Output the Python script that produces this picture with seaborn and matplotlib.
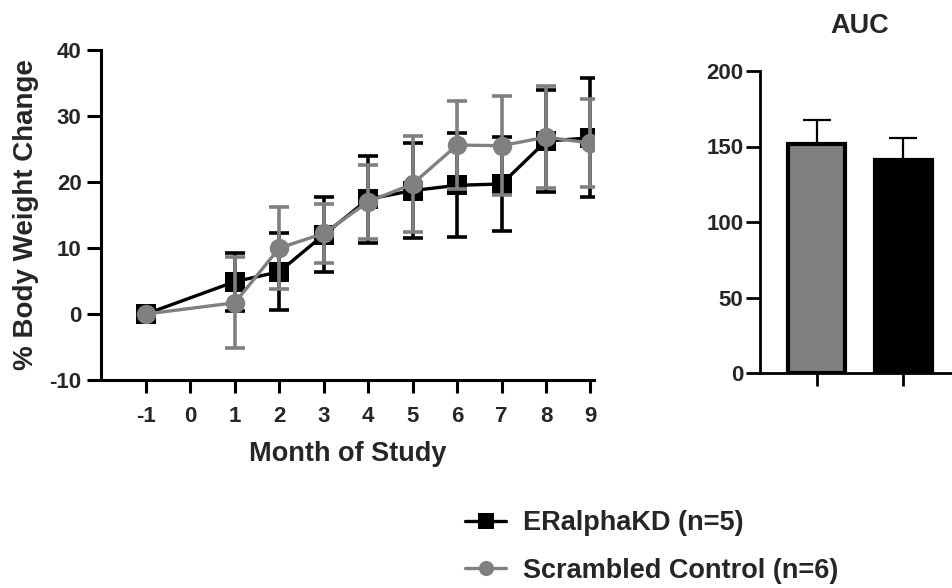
import numpy as np
import pandas as pd
import matplotlib
matplotlib.use("Agg")
import matplotlib.pyplot as plt
import seaborn as sns

# Monthly % body weight change (mean and SEM) per group
months = [-1, 1, 2, 3, 4, 5, 6, 7, 8, 9]
kd_mean = [0.0, 4.9, 6.4, 12.0, 17.4, 18.7, 19.5, 19.7, 26.2, 26.7]
kd_sem = [0.0, 4.4, 5.8, 5.7, 6.6, 7.2, 7.9, 7.1, 7.7, 9.0]
ctrl_mean = [0.0, 1.7, 10.0, 12.2, 17.0, 19.7, 25.6, 25.5, 26.8, 25.9]
ctrl_sem = [0.0, 6.9, 6.2, 4.5, 5.6, 7.3, 6.7, 7.5, 7.7, 6.7]

kd_label = "ERalphaKD (n=5)"
ctrl_label = "Scrambled Control (n=6)"

# Area under the curve per group
auc_groups = ["Scrambled Control", "ERalphaKD"]
auc_mean = [151.5, 140.9]
auc_sem = [16.0, 14.9]

month_ticks = [-1, 0, 1, 2, 3, 4, 5, 6, 7, 8, 9]
weight_ticks = [-10, 0, 10, 20, 30, 40]
auc_ticks = [0, 50, 100, 150, 200]

GREY = "#808080"
BLACK = "#000000"

sns.set_theme(style="ticks")
plt.rcParams["font.family"] = ["Liberation Sans", "DejaVu Sans"]
plt.rcParams["font.weight"] = "bold"
plt.rcParams["axes.labelweight"] = "bold"
plt.rcParams["axes.titleweight"] = "bold"
plt.rcParams["axes.unicode_minus"] = False

TICK_FS = 16
LABEL_FS = 19.5

fig = plt.figure(figsize=(9.52, 5.88), dpi=100)
ax = fig.add_axes([101 / 952, 1 - 380 / 588, 493 / 952, 330 / 588])
ax_auc = fig.add_axes([760 / 952, 1 - 373.3 / 588, 200 / 952, 302.4 / 588])

df = pd.DataFrame({
    "month": months * 2,
    "mean": kd_mean + ctrl_mean,
    "sem": kd_sem + ctrl_sem,
    "group": [kd_label] * len(months) + [ctrl_label] * len(months),
})

series = [
    (kd_label, BLACK, "s", 2.0),
    (ctrl_label, GREY, "o", 3.0),
]
for name, color, marker, z in series:
    sub = df[df["group"] == name]
    err = sub[sub["sem"] > 0]
    ax.errorbar(err["month"], err["mean"], yerr=err["sem"], fmt="none",
                ecolor=color, elinewidth=2.6, capsize=7, capthick=2.6,
                zorder=z)
    sns.lineplot(data=sub, x="month", y="mean", ax=ax, color=color,
                 marker=marker, markersize=14, markeredgewidth=0,
                 linewidth=2.4, label=name, zorder=z + 0.5, legend=False)

ax.set_xlim(-2.01, 9.08)
ax.set_ylim(-10, 40)
ax.set_xticks(month_ticks)
ax.set_yticks(weight_ticks)
ax.set_xlabel("Month of Study", fontsize=LABEL_FS, labelpad=10)
ax.set_ylabel("% Body Weight Change", fontsize=20, labelpad=7.5)
for side in ("top", "right"):
    ax.spines[side].set_visible(False)
for side in ("left", "bottom"):
    ax.spines[side].set_linewidth(2.2)
    ax.spines[side].set_color(BLACK)
ax.tick_params(axis="both", labelsize=TICK_FS, width=2.2, color=BLACK)
ax.tick_params(axis="y", length=10, pad=4)
ax.tick_params(axis="x", length=9, pad=10)
for lab in ax.get_xticklabels() + ax.get_yticklabels():
    lab.set_fontweight("bold")

# AUC bars
auc_df = pd.DataFrame({"group": auc_groups, "auc": auc_mean})
sns.barplot(data=auc_df, x="group", y="auc", hue="group",
            palette=[GREY, BLACK], width=0.66, edgecolor=BLACK,
            linewidth=3, ax=ax_auc, legend=False, zorder=2)
ax_auc.errorbar(range(len(auc_groups)), auc_mean,
                yerr=[[0] * len(auc_sem), auc_sem], fmt="none",
                ecolor=BLACK, elinewidth=1.6, capsize=10, capthick=1.6,
                zorder=1)
ax_auc.set_xlim(-0.655, 1.655)
ax_auc.set_ylim(0, 200)
ax_auc.set_yticks(auc_ticks)
ax_auc.set_xlabel("")
ax_auc.set_ylabel("")
ax_auc.set_title("AUC", fontsize=LABEL_FS, pad=27)
for side in ("top", "right"):
    ax_auc.spines[side].set_visible(False)
for side in ("left", "bottom"):
    ax_auc.spines[side].set_linewidth(2.0)
    ax_auc.spines[side].set_color(BLACK)
ax_auc.tick_params(axis="both", labelsize=TICK_FS, width=2.0, color=BLACK)
ax_auc.tick_params(axis="y", length=10, pad=2)
ax_auc.tick_params(axis="x", length=9, labelbottom=False)
for lab in ax_auc.get_yticklabels():
    lab.set_fontweight("bold")

handles, labels = ax.get_legend_handles_labels()
fig.legend(handles, labels, loc="center left",
           bbox_to_anchor=(441 / 952, 1 - 547 / 588), frameon=False,
           markerscale=0.78, handlelength=1.5,
           labelspacing=0.78, handletextpad=0.63,
           prop={"weight": "bold", "size": LABEL_FS})

fig.savefig("out.png", dpi=100)
